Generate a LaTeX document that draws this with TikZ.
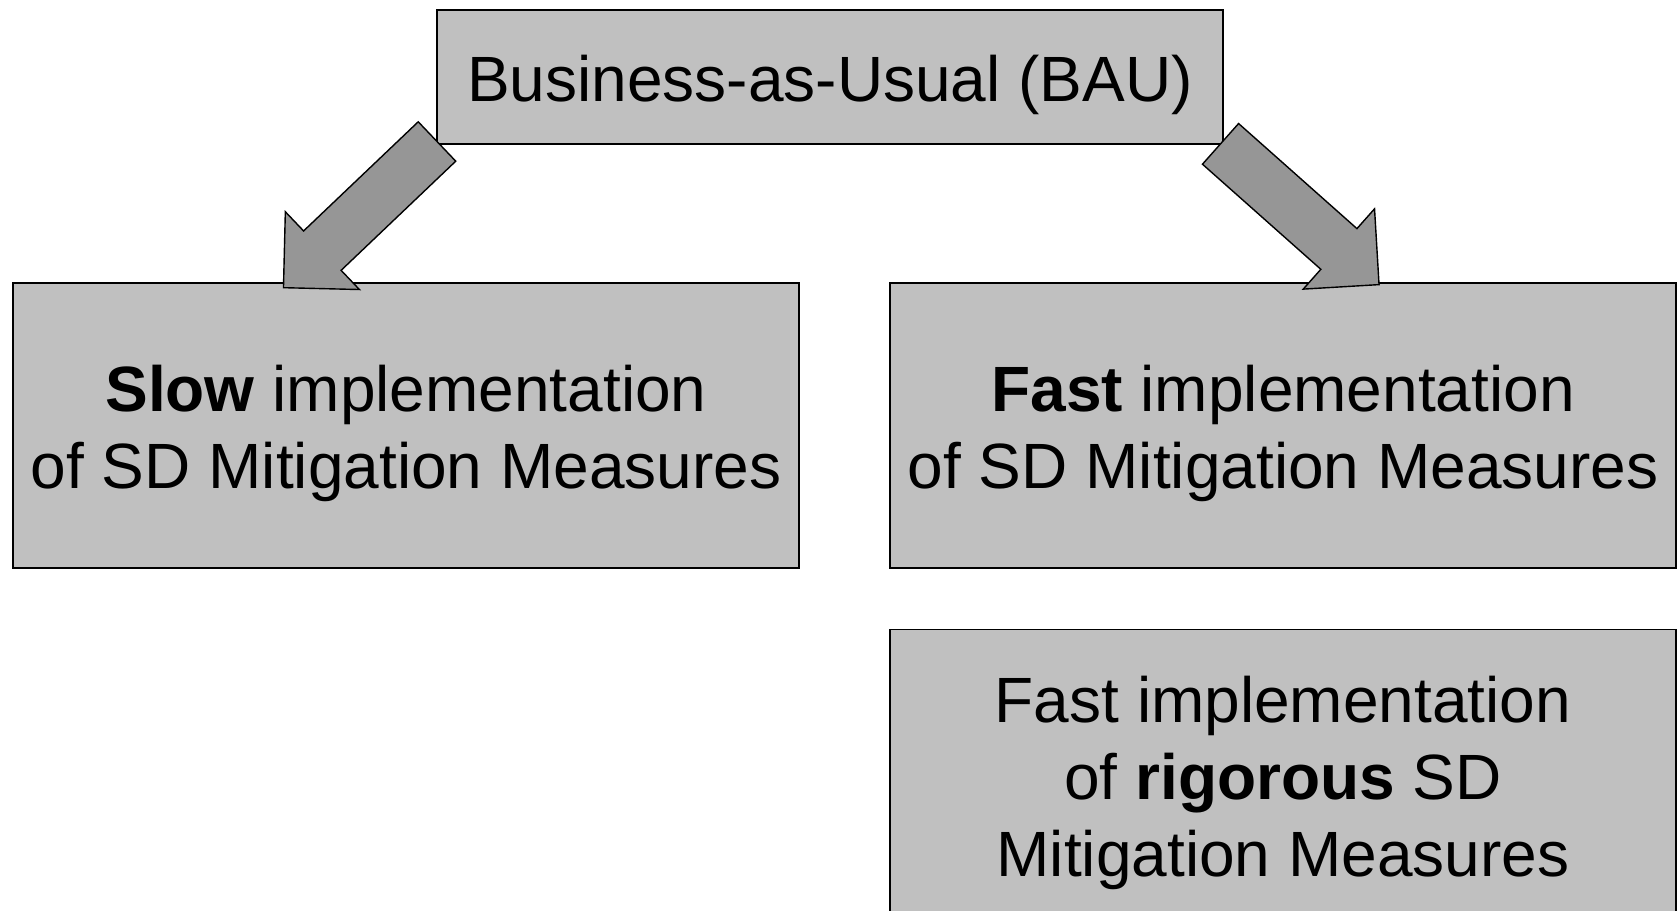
\documentclass[tikz,border=0pt]{standalone}
\usepackage{fontspec}
\setmainfont{Liberation Sans}
\usetikzlibrary{shapes.arrows}
\definecolor{boxgray}{RGB}{192,192,192}
\definecolor{arrowgray}{RGB}{150,150,150}
\newcommand{\boxstrut}{\rule[-7pt]{0pt}{38pt}}
\tikzstyle{scenario}=[rectangle, draw, line width=0.7pt, fill=boxgray, align=center, inner sep=0pt,
  minimum width=393pt, minimum height=142.5pt, font=\fontsize{32}{38.5}\selectfont]
\tikzstyle{bigarrow}=[single arrow, draw, line width=0.7pt, fill=arrowgray, inner xsep=0pt, inner ysep=13.25pt,
  minimum height=106pt, minimum width=53pt, single arrow head extend=13.25pt, anchor=tail]

\begin{document}
\begin{tikzpicture}[x=0.5pt,y=-0.5pt]
  \useasboundingbox (0,0) rectangle (1678,911);
  \node[scenario, minimum height=67pt] (bau) at (830,77) {\boxstrut Business-as-Usual (BAU)};
  \node[scenario] (slow) at (406,425.5)
    {\boxstrut\textbf{Slow} implementation\\\boxstrut of SD Mitigation Measures};
  \node[scenario] (fast) at (1283,425.5)
    {\boxstrut\textbf{Fast} implementation\\\boxstrut of SD Mitigation Measures};
  \node[scenario, minimum height=146pt, anchor=north] (rigorous) at (1283,629)
    {\boxstrut Fast implementation\\\boxstrut of \textbf{rigorous} SD\\\boxstrut Mitigation Measures};
  % block arrows from BAU down to the two scenarios
  \node[bigarrow, rotate=223.6] (toslow) at (437.5,141) {};
  \node[bigarrow, rotate=-41.6] (tofast) at (1220,143.4) {};
\end{tikzpicture}
\end{document}
